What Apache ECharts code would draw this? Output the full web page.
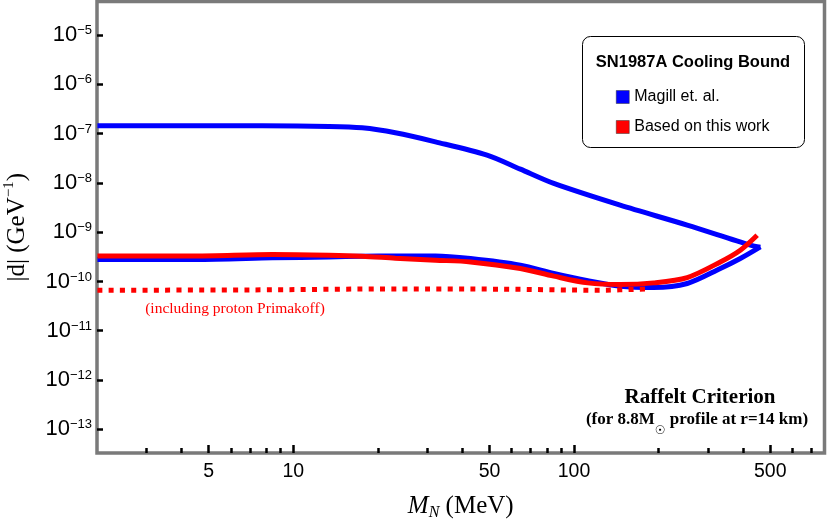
<!DOCTYPE html>
<html>
<head>
<meta charset="utf-8">
<script src="https://cdn.jsdelivr.net/npm/echarts@6/dist/echarts.min.js"></script>
<style>html,body{margin:0;padding:0;background:#fff}#c{width:830px;height:526px}</style>
</head>
<body>
<div id="c"></div>
<script>
// ---- data ----
const magillUpperM = [2.007, 3.97, 7.75, 13.4, 17.6, 23.1, 32.1, 49.0, 64.4, 84.7, 146, 253, 425, 461];
const magillUpperD = [1.44e-7, 1.44e-7, 1.44e-7, 1.40e-7, 1.31e-7, 1.04e-7, 6.82e-8, 3.66e-8, 1.9e-8, 9.75e-9, 3.53e-9, 1.39e-9, 5.45e-10, 4.96e-10];

const magillLowerM = [2.007, 4.48, 8.43, 13.4, 17.6, 23.1, 32.1, 42.8, 64.4, 84.7, 112, 146, 192, 253, 332, 391, 461];
const magillLowerD = [2.79e-10, 2.79e-10, 3.01e-10, 3.15e-10, 3.26e-10, 3.30e-10, 3.30e-10, 2.92e-10, 2.14e-10, 1.45e-10, 1.03e-10, 8.0e-11, 7.54e-11, 9.09e-11, 1.83e-10, 2.92e-10, 5.03e-10];

const thisWorkM = [2.007, 4.48, 8.43, 13.4, 17.6, 23.1, 32.1, 42.8, 64.4, 84.7, 112, 146, 192, 253, 332, 391, 449];
const thisWorkD = [3.30e-10, 3.30e-10, 3.52e-10, 3.41e-10, 3.26e-10, 2.96e-10, 2.70e-10, 2.49e-10, 1.83e-10, 1.28e-10, 9.35e-11, 8.67e-11, 9.35e-11, 1.20e-10, 2.49e-10, 4.31e-10, 8.69e-10];

const primakoffM = [2.007, 7.04, 24.1, 54.7, 124, 179];
const primakoffD = [6.64e-11, 6.73e-11, 7.06e-11, 6.97e-11, 6.64e-11, 7.0e-11];

const xMajorTicks = [5, 10, 50, 100, 500];
const xMinorTicks = [3, 4, 6, 7, 8, 9, 20, 30, 40, 60, 70, 80, 90, 200, 300, 400, 600, 700];
const yTicks = [1e-13, 1e-12, 1e-11, 1e-10, 1e-9, 1e-8, 1e-7, 1e-6, 1e-5];

const seriesNames = ['Magill et. al.', 'Based on this work'];
const legendTitle = 'SN1987A Cooling Bound';

const zip = (a, b) => a.map((v, i) => [v, b[i]]);

const chart = echarts.init(document.getElementById('c'), null, {renderer: 'canvas'});
const SANS = 'Liberation Sans, Arial, sans-serif';
const SERIF = 'Liberation Serif, Times New Roman, serif';
const BLUE = '#0000ff', RED = '#ff0000';

const xBase = {
  type: 'log', logBase: 10, min: 2, max: 780, gridIndex: 0, position: 'bottom',
  axisLine: {show: false}, splitLine: {show: false}
};

const option = {
  animation: false,
  backgroundColor: '#fff',
  grid: {left: 97, right: 5.5, top: 1.5, bottom: 73, containLabel: false, outerBoundsMode: 'none',
    show: true, borderColor: '#7a7a7a', borderWidth: 3.5, backgroundColor: 'transparent'},
  legend: {
    data: seriesNames, orient: 'vertical', left: 611, top: 84, itemGap: 14,
    icon: 'rect', itemWidth: 13, itemHeight: 13, z: 10,
    textStyle: {fontFamily: SANS, fontSize: 16, color: '#000'},
    itemStyle: {borderColor: '#333', borderWidth: 0.5}
  },
  xAxis: [
    Object.assign({}, xBase, {
      name: '{it|M}{sub|N}{rm| (MeV)}', nameLocation: 'middle', nameGap: 38,
      nameTextStyle: {
        rich: {
          it: {fontFamily: SERIF, fontStyle: 'italic', fontSize: 25, lineHeight: 30, color: '#000'},
          sub: {fontFamily: SERIF, fontStyle: 'italic', fontSize: 16, lineHeight: 16, verticalAlign: 'bottom', color: '#000'},
          rm: {fontFamily: SERIF, fontSize: 25, lineHeight: 30, color: '#000'}
        }
      },
      axisTick: {show: true, inside: true, length: 8, lineStyle: {color: '#000', width: 2.5}, customValues: xMajorTicks},
      axisLabel: {show: true, customValues: xMajorTicks, margin: 9, fontFamily: SANS, fontSize: 19.5, color: '#000',
        formatter: v => String(Math.round(v))}
    }),
    Object.assign({}, xBase, {
      axisTick: {show: true, inside: true, length: 5, lineStyle: {color: '#000', width: 2.5}, customValues: xMinorTicks},
      axisLabel: {show: false}
    })
  ],
  yAxis: {
    type: 'log', logBase: 10, min: 3.3e-14, max: 4.8e-5,
    axisLine: {show: false}, splitLine: {show: false},
    name: '{rm||d| (GeV}{sup|−1}{rm|)}', nameLocation: 'middle', nameGap: 65,
    nameTextStyle: {
      rich: {
        rm: {fontFamily: SERIF, fontSize: 25, lineHeight: 30, color: '#000'},
        sup: {fontFamily: SERIF, fontSize: 15, lineHeight: 15, verticalAlign: 'top', color: '#000'}
      }
    },
    axisTick: {show: true, inside: true, length: 6, lineStyle: {color: '#000', width: 2.5}, customValues: yTicks},
    axisLabel: {
      show: true, customValues: yTicks, margin: 5,
      formatter: v => '{b|10}{s|−' + Math.abs(Math.round(Math.log10(v))) + '}',
      rich: {
        b: {fontFamily: SANS, fontSize: 22, lineHeight: 22, color: '#000'},
        s: {fontFamily: SANS, fontSize: 13, lineHeight: 12, verticalAlign: 'top', color: '#000'}
      }
    }
  },
  series: [
    {name: seriesNames[0], type: 'line', data: zip(magillUpperM, magillUpperD), smooth: 0.3, showSymbol: false, symbol: 'none',
      lineStyle: {color: BLUE, width: 5}, itemStyle: {color: BLUE}, z: 2},
    {name: seriesNames[0], type: 'line', data: zip(magillLowerM, magillLowerD), smooth: 0.3, showSymbol: false, symbol: 'none',
      lineStyle: {color: BLUE, width: 5}, itemStyle: {color: BLUE}, z: 2},
    {name: 'primakoff', type: 'line', data: zip(primakoffM, primakoffD), smooth: 0.3, showSymbol: false, symbol: 'none',
      lineStyle: {color: RED, width: 5, type: [5, 6.3], cap: 'butt'}, itemStyle: {color: RED}, z: 3},
    {name: seriesNames[1], type: 'line', data: zip(thisWorkM, thisWorkD), smooth: 0.3, showSymbol: false, symbol: 'none',
      lineStyle: {color: RED, width: 5}, itemStyle: {color: RED}, z: 4}
  ],
  graphic: [
    {type: 'rect', z: 5, shape: {x: 582.5, y: 36.5, width: 222, height: 111, r: 8},
      style: {fill: '#fff', stroke: '#000', lineWidth: 1}},
    {type: 'text', z: 6, x: 693, y: 62, style: {text: legendTitle, fill: '#000', font: 'bold 16.5px ' + SANS, textAlign: 'center', textVerticalAlign: 'middle'}},
    {type: 'text', z: 6, x: 235, y: 309, style: {text: '(including proton Primakoff)', fill: RED, font: '15.5px ' + SERIF, textAlign: 'center', textVerticalAlign: 'middle'}},
    {type: 'text', z: 6, x: 700, y: 398, style: {text: 'Raffelt Criterion', fill: '#000', font: 'bold 21px ' + SERIF, textAlign: 'center', textVerticalAlign: 'middle'}},
    {type: 'text', z: 6, x: 697, y: 424, style: {
      text: '{a|(for 8.8M}{s|☉}{a| profile at r=14 km)}', textAlign: 'center', textVerticalAlign: 'middle',
      rich: {
        a: {fontFamily: SERIF, fontWeight: 'bold', fontSize: 17, lineHeight: 19, fill: '#000', verticalAlign: 'top'},
        s: {fontFamily: 'DejaVu Sans', fontSize: 12, lineHeight: 25, fill: '#000', verticalAlign: 'bottom'}
      }}}
  ]
};
chart.setOption(option);
</script>
</body>
</html>
